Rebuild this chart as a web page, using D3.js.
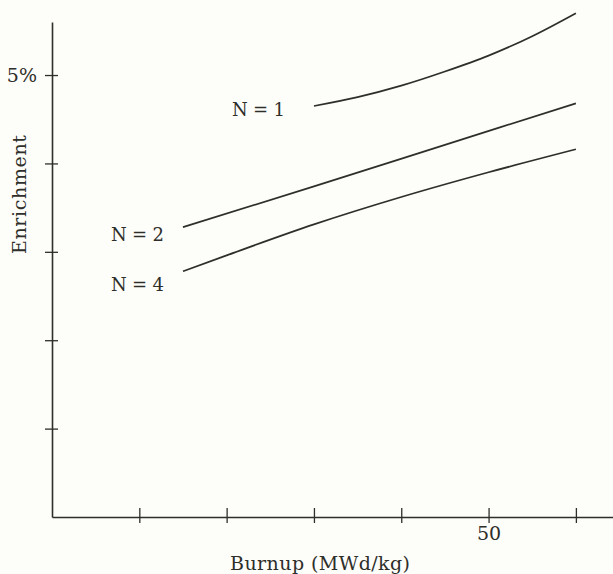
<!DOCTYPE html>
<html>
<head>
<meta charset="utf-8">
<script src="https://cdn.jsdelivr.net/npm/d3@7"></script>
<style>
  html, body { margin: 0; padding: 0; background: #fdfdf9; }
  svg { display: block; }
  text { font-family: "DejaVu Serif", "Liberation Serif", serif; fill: #2e2e2a; }
</style>
</head>
<body>
<svg id="chart" width="613" height="574"></svg>
<script>
// burnup (MWd/kg) -> enrichment (%)
var burnupN1 = [30, 35, 40, 45, 50, 55, 60];
var enrichN1 = [4.65, 4.75, 4.88, 5.04, 5.22, 5.44, 5.70];

var burnupN2 = [15, 30, 45, 60];
var enrichN2 = [3.28, 3.74, 4.21, 4.68];

var burnupN4 = [15, 20, 30, 40, 50, 60];
var enrichN4 = [2.78, 2.96, 3.31, 3.62, 3.90, 4.16];

var curveNames = ["N = 1", "N = 2", "N = 4"];

var xTicks = [10, 20, 30, 40, 50, 60];
var yTicks = [1, 2, 3, 4, 5];

var ink = "#2e2e2a";

var svg = d3.select("#chart");

var x = d3.scaleLinear().domain([0, 64.25]).range([52, 613]);
var y = d3.scaleLinear().domain([0, 5.6]).range([517, 22]);

// x axis, ticks cross the line
var gx = svg.append("g")
    .attr("transform", "translate(0," + y(0) + ")")
    .call(d3.axisBottom(x)
        .tickValues(xTicks)
        .tickSizeOuter(0)
        .tickFormat(function(d) { return d === 50 ? "50" : ""; }));
gx.select(".domain").attr("stroke", ink).attr("stroke-width", 1.6);
gx.selectAll(".tick line").attr("stroke", ink).attr("stroke-width", 1.3)
    .attr("y1", -9).attr("y2", 6);
gx.selectAll(".tick text").attr("y", 23).attr("dy", 0)
    .style("font-size", "19px").attr("fill", ink);

// y axis
var gy = svg.append("g")
    .attr("transform", "translate(" + x(0) + ",0)")
    .call(d3.axisLeft(y)
        .tickValues(yTicks)
        .tickSizeOuter(0)
        .tickFormat(function(d) { return d === 5 ? "5%" : ""; }));
gy.select(".domain").attr("stroke", ink).attr("stroke-width", 1.6);
gy.selectAll(".tick line").attr("stroke", ink).attr("stroke-width", 1.3)
    .attr("x1", 6).attr("x2", -7);
gy.selectAll(".tick text").attr("x", -15).attr("dy", "0.35em")
    .style("font-size", "19px").attr("fill", ink);

// curves
var series = [
    d3.zip(burnupN1, enrichN1),
    d3.zip(burnupN2, enrichN2),
    d3.zip(burnupN4, enrichN4)
];

var line = d3.line()
    .x(function(d) { return x(d[0]); })
    .y(function(d) { return y(d[1]); })
    .curve(d3.curveMonotoneX);

svg.selectAll("path.curve")
    .data(series)
    .enter()
    .append("path")
    .attr("class", "curve")
    .attr("d", line)
    .attr("fill", "none")
    .attr("stroke", ink)
    .attr("stroke-width", 1.7);

// curve labels, placed left of each curve start
var labelPos = [
    {"x": 232, "y": 116},
    {"x": 111, "y": 241},
    {"x": 111, "y": 291}
];
svg.selectAll("text.curve-label")
    .data(curveNames)
    .enter()
    .append("text")
    .attr("class", "curve-label")
    .attr("x", function(d, i) { return labelPos[i].x; })
    .attr("y", function(d, i) { return labelPos[i].y; })
    .attr("textLength", 53)
    .attr("lengthAdjust", "spacing")
    .style("font-size", "18px")
    .text(function(d) { return d; });

// axis titles
svg.append("text")
    .attr("x", 230)
    .attr("y", 570)
    .attr("textLength", 180)
    .attr("lengthAdjust", "spacing")
    .style("font-size", "19px")
    .text("Burnup (MWd/kg)");

svg.append("text")
    .attr("transform", "translate(26,254) rotate(-90)")
    .attr("textLength", 119)
    .attr("lengthAdjust", "spacing")
    .style("font-size", "19px")
    .text("Enrichment");
</script>
</body>
</html>
